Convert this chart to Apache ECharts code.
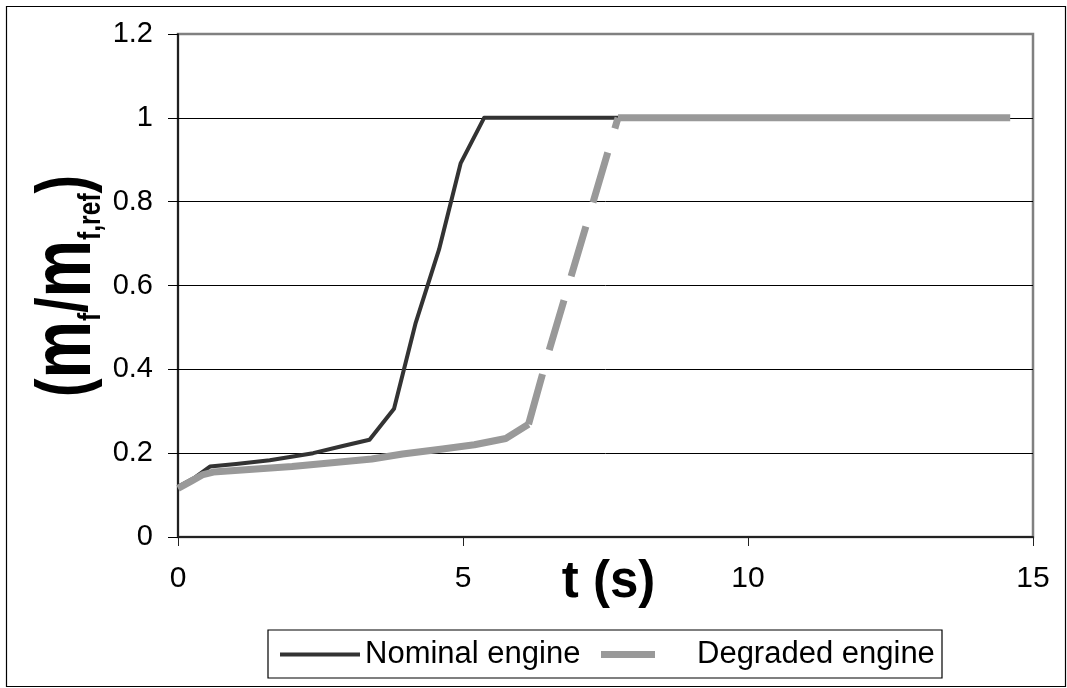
<!DOCTYPE html>
<html>
<head>
<meta charset="utf-8">
<script src="https://cdn.jsdelivr.net/npm/echarts@6/dist/echarts.min.js"></script>
<style>
html,body{margin:0;padding:0;background:#fff;}
#chart{width:1067px;height:688px;}
</style>
</head>
<body>
<div id="chart"></div>
<script>
// ---- data ----
const nominalT  = [0, 0.3, 0.56, 1.02, 1.61, 2.37, 2.89, 3.36, 3.79, 4.17, 4.58, 4.96, 5.37, 7.72];
const nominalMf = [0.12, 0.142, 0.168, 0.174, 0.183, 0.2, 0.217, 0.232, 0.306, 0.511, 0.686, 0.892, 1.0, 1.0];

const degradedT  = [0, 0.24, 0.44, 0.62, 2.0, 3.4, 3.94, 4.64, 5.2, 5.75, 6.15, 6.5, 7.72, 14.6];
const degradedMf = [0.116, 0.134, 0.149, 0.155, 0.168, 0.186, 0.198, 0.21, 0.22, 0.235, 0.269, 0.44, 1.0, 1.0];
// index range of the steep (dashed-looking) part of the degraded curve
const steepStart = 10, steepEnd = 12;

const xTicks = {min: 0, max: 15, interval: 5};
const yTicks = {min: 0, max: 1.2, interval: 0.2};
const seriesNames = ['Nominal engine', 'Degraded engine'];

// ---- build ----
const nominalData = nominalT.map((t, i) => [t, nominalMf[i]]);
const degradedSolid = [];
degradedT.forEach((t, i) => {
  if (i <= steepStart || i >= steepEnd) degradedSolid.push([t, degradedMf[i]]);
  if (i === steepStart) degradedSolid.push('-');
});
const degradedSteep = [];
for (let i = steepStart; i <= steepEnd; i++) degradedSteep.push([degradedT[i], degradedMf[i]]);

const FONT = 'Arial, "Liberation Sans", sans-serif';
const legendText = {fontFamily: FONT, fontSize: 31, color: '#000'};
const chart = echarts.init(document.getElementById('chart'), null, {renderer: 'canvas'});
chart.setOption({
  animation: false,
  backgroundColor: '#fff',
  grid: {left: 178, right: 34, top: 34, bottom: 151, show: true, borderColor: '#808080', borderWidth: 2.5, backgroundColor: 'transparent'},
  xAxis: {
    type: 'value', min: xTicks.min, max: xTicks.max, interval: xTicks.interval,
    name: 't (s)', nameLocation: 'middle', nameGap: 20, nameMoveOverlap: false,
    nameTextStyle: {fontFamily: FONT, fontWeight: 'bold', fontSize: 51, color: '#000', padding: [0, 0, 0, 6]},
    axisLine: {show: true, onZero: false, lineStyle: {color: '#222', width: 2}},
    axisTick: {show: true, length: 9, lineStyle: {color: '#222', width: 1}},
    axisLabel: {fontFamily: FONT, fontSize: 30, color: '#000', margin: 27},
    splitLine: {show: false}
  },
  yAxis: {
    type: 'value', min: yTicks.min, max: yTicks.max, interval: yTicks.interval,
    axisLine: {show: true, onZero: false, lineStyle: {color: '#000', width: 1.5}},
    axisTick: {show: true, length: 10, lineStyle: {color: '#000', width: 1}},
    axisLabel: {fontFamily: FONT, fontSize: 29, color: '#000', margin: 25},
    splitLine: {show: true, showMaxLine: false, lineStyle: {color: '#000', width: 1}}
  },
  legend: [
    {
      left: 280, top: 639, padding: 0, itemWidth: 80, itemHeight: 4, icon: 'rect',
      textStyle: legendText,
      data: [{name: seriesNames[0], itemStyle: {color: '#333333', borderWidth: 0}}]
    },
    {
      left: 601, top: 639, padding: 0, itemWidth: 54, itemHeight: 7, icon: 'rect',
      textStyle: Object.assign({padding: [0, 0, 0, 37]}, legendText),
      data: [{name: seriesNames[1], itemStyle: {color: '#999999', borderWidth: 0}}]
    }
  ],
  graphic: [
    {type: 'rect', left: 4, top: 4, shape: {width: 1059, height: 680}, style: {fill: 'none', stroke: '#000', lineWidth: 1.2}, silent: true, z: -1},
    {type: 'rect', x: 268, y: 630, shape: {width: 674, height: 48}, style: {fill: '#fff', stroke: '#000', lineWidth: 1.2}, silent: true, z: -1},
    {
      type: 'text', x: 67, y: 286, rotation: Math.PI / 2, scaleX: 0.77, scaleY: 1,
      style: {
        text: '{p|(}{m|m}{s|f}{p|/}{m|m}{s|f,ref}{p|)}',
        align: 'center', verticalAlign: 'middle',
        rich: {
          p: {fontFamily: FONT, fontWeight: 'bold', fontSize: 72, lineHeight: 80, fill: '#000'},
          m: {fontFamily: FONT, fontWeight: 'bold', fontSize: 84, lineHeight: 80, fill: '#000'},
          s: {fontFamily: FONT, fontWeight: 'bold', fontSize: 32, lineHeight: 48, verticalAlign: 'bottom', fill: '#000'}
        }
      }
    }
  ],
  series: [
    {name: seriesNames[0], type: 'line', data: nominalData, showSymbol: false, symbol: 'none',
     lineStyle: {color: '#333333', width: 4, join: 'round'}, itemStyle: {color: '#333333'}, z: 2},
    {name: seriesNames[1], type: 'line', data: degradedSolid, showSymbol: false, symbol: 'none', connectNulls: false,
     lineStyle: {color: '#999999', width: 7, join: 'round'}, itemStyle: {color: '#999999'}, z: 3},
    {name: seriesNames[1] + ' (steep part)', type: 'line', data: degradedSteep, showSymbol: false, symbol: 'none',
     lineStyle: {color: '#999999', width: 7, type: [52, 25], join: 'round'}, itemStyle: {color: '#999999'}, z: 3}
  ]
});
</script>
</body>
</html>
